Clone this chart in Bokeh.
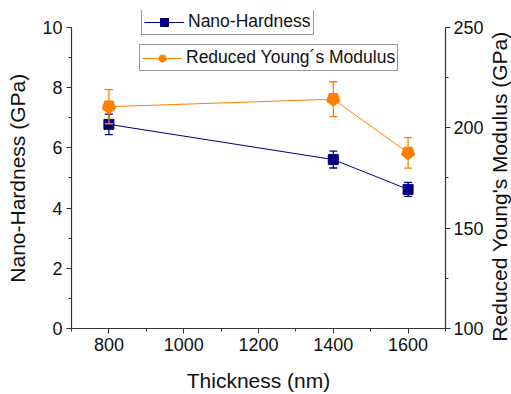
import math
from bokeh.plotting import figure
from bokeh.models import Range1d, LinearAxis, FixedTicker, Legend, LegendItem, Label
from bokeh.embed import file_html
from bokeh.resources import INLINE

thickness = [800, 1400, 1600]
hardness = [6.78, 5.61, 4.62]
hardness_err = [0.34, 0.28, 0.23]
modulus = [210.5, 214.2, 187.5]
modulus_err = [8.5, 8.7, 7.6]

x_ticks = [800, 1000, 1200, 1400, 1600]
x_minor = [700, 900, 1100, 1300, 1500, 1700]
left_ticks = [0, 2, 4, 6, 8, 10]
left_minor = [1, 3, 5, 7, 9]
right_ticks = [100, 150, 200, 250]
right_minor = [125, 175, 225]

NAVY = "#000080"
ORANGE = "#FF8000"
FONT = "Liberation Sans"
NB = "\u00a0"

# frame extends above the axis ends so the legends are not clipped
p = figure(width=511, height=394, output_backend="svg", toolbar_location=None,
           x_range=Range1d(700, 1700), y_range=Range1d(0, 10.56),
           min_border_left=71, min_border_right=66, min_border_top=10, min_border_bottom=64)
p.extra_y_ranges = {"right": Range1d(100, 258.4)}
p.outline_line_color = None
p.xgrid.grid_line_color = None
p.ygrid.grid_line_color = None
p.background_fill_color = "white"
p.border_fill_color = "white"

ax_r = LinearAxis(y_range_name="right")
p.add_layout(ax_r, "right")

p.xaxis.ticker = FixedTicker(ticks=x_ticks, minor_ticks=x_minor)
p.yaxis[0].ticker = FixedTicker(ticks=left_ticks, minor_ticks=left_minor)
ax_r.ticker = FixedTicker(ticks=right_ticks, minor_ticks=right_minor)
p.yaxis[0].bounds = (0, 10)
ax_r.bounds = (100, 250)

p.xaxis.axis_label = "Thickness (nm)"
p.yaxis[0].axis_label = "Nano-Hardness (GPa)" + NB * 3

for ax in [p.xaxis[0], p.yaxis[0], ax_r]:
    ax.axis_line_color = "#333333"
    ax.axis_line_width = 1.2
    ax.major_tick_line_color = "#333333"
    ax.minor_tick_line_color = "#333333"
    ax.major_tick_out = 5
    ax.major_tick_in = 0
    ax.minor_tick_out = 3
    ax.minor_tick_in = 0
    ax.major_label_text_font = FONT
    ax.major_label_text_font_size = "18px"
    ax.major_label_text_color = "#111111"
    ax.major_label_standoff = 4
    ax.axis_label_text_font = FONT
    ax.axis_label_text_font_size = "21px"
    ax.axis_label_text_font_style = "normal"
    ax.axis_label_text_color = "#111111"
    ax.axis_label_standoff = 10
p.xaxis[0].axis_label_standoff = 15
ax_r.major_label_standoff = 3

# right axis title, drawn as a label in the right side panel (reads bottom to top)
r_title = Label(text="Reduced Young's Modulus (GPa)", x=13, y=142, x_units="screen", y_units="screen",
                angle=math.pi / 2, text_align="center", text_baseline="middle",
                text_font=FONT, text_font_size="21px", text_color="#111111")
p.add_layout(r_title, "right")

# Nano-hardness
h_top = [v + e for v, e in zip(hardness, hardness_err)]
h_bot = [v - e for v, e in zip(hardness, hardness_err)]
p.segment(x0=thickness, y0=h_bot, x1=thickness, y1=h_top, line_color=NAVY, line_width=1.3)
p.scatter(x=thickness + thickness, y=h_top + h_bot, marker="dash", size=8, line_color=NAVY, line_width=1.3)
h_line = p.line(thickness, hardness, line_color=NAVY, line_width=1)
h_mark = p.scatter(thickness, hardness, marker="square", size=10, fill_color=NAVY, line_color=NAVY)

# Reduced modulus
m_top = [v + e for v, e in zip(modulus, modulus_err)]
m_bot = [v - e for v, e in zip(modulus, modulus_err)]
p.segment(x0=thickness, y0=m_bot, x1=thickness, y1=m_top, line_color=ORANGE, line_width=1.3, y_range_name="right")
p.scatter(x=thickness + thickness, y=m_top + m_bot, marker="dash", size=8, line_color=ORANGE, line_width=1.3, y_range_name="right")
m_line = p.line(thickness, modulus, line_color=ORANGE, line_width=1, y_range_name="right")
m_mark = p.ngon(x=thickness, y=modulus, radius=7, radius_units="screen", n=5, angle=math.pi / 5,
                fill_color=ORANGE, line_color=ORANGE, y_range_name="right")

def make_legend(label, renderers, loc):
    lg = Legend(items=[LegendItem(label=label, renderers=renderers)], location=loc,
                padding=2, margin=0, glyph_width=40, glyph_height=20, label_standoff=4,
                spacing=0, label_text_font=FONT, label_text_font_size="17.5px",
                label_text_color="#111111", border_line_color="#333333", border_line_width=1,
                background_fill_alpha=1.0)
    p.add_layout(lg, "center")

make_legend("Nano-Hardness", [h_line, h_mark], (70, 293))
make_legend("Reduced Young\u00b4s Modulus", [m_line, m_mark], (68, 257))

open("out.html", "w").write(file_html(p, INLINE))
